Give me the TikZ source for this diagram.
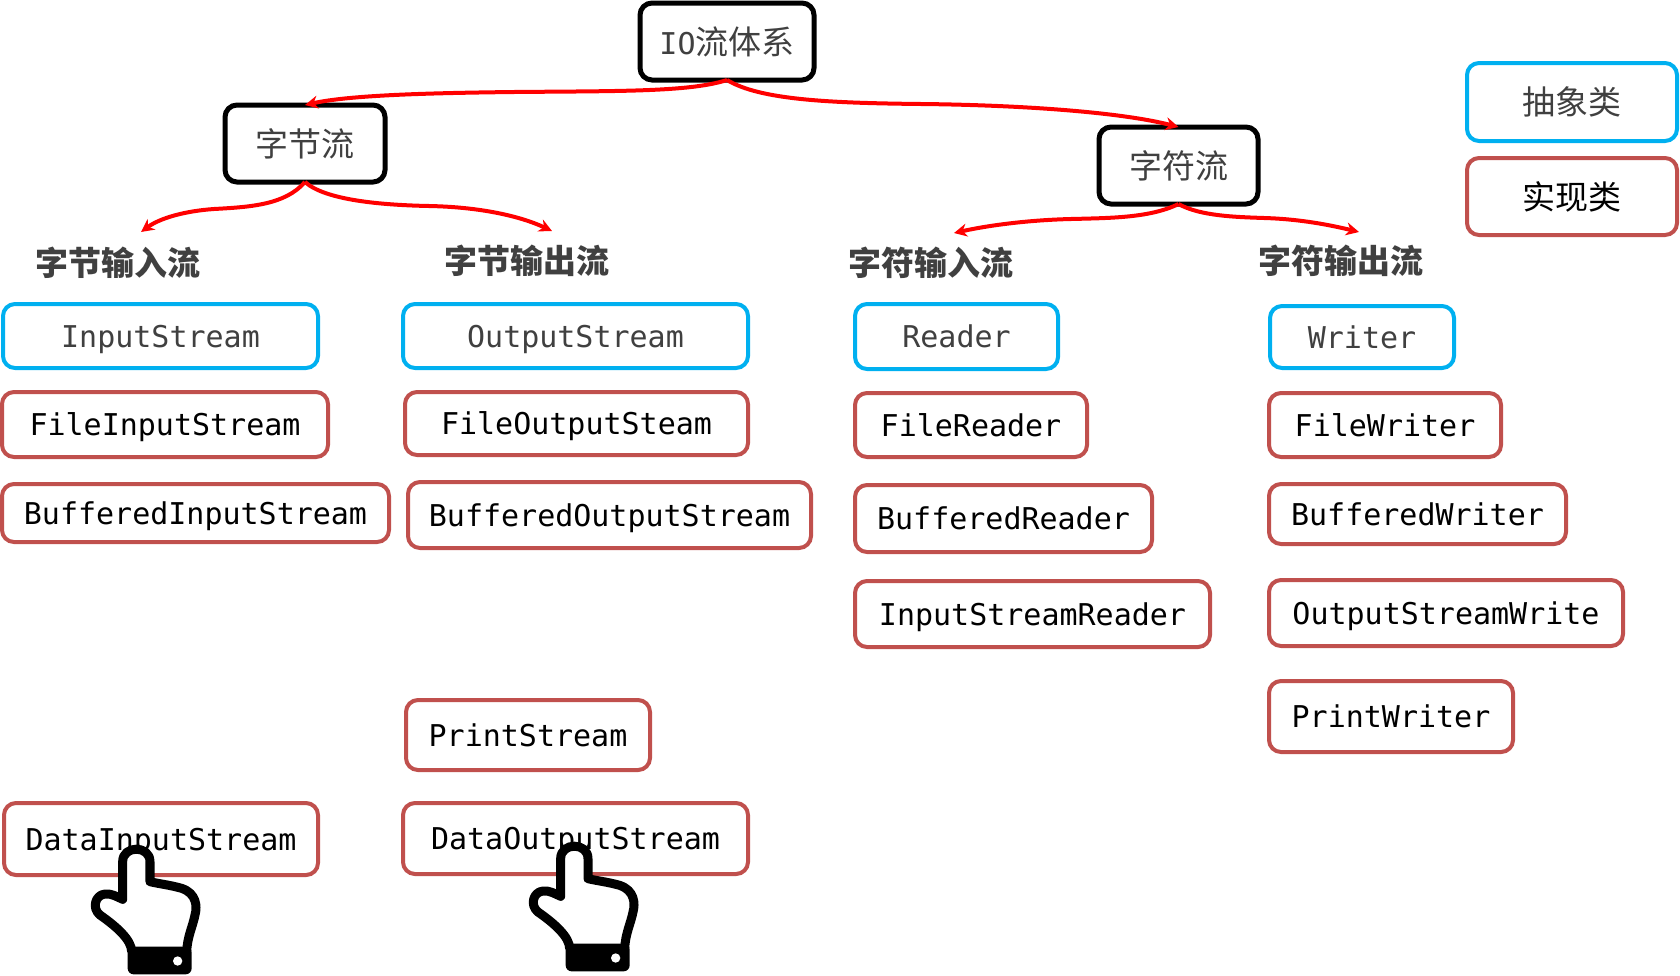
\documentclass[tikz,border=0pt]{standalone}
\usepackage{fontspec}
\setmonofont{DejaVu Sans Mono}
\newfontfamily\cjk{Noto Sans CJK SC}
\usetikzlibrary{arrows.meta}
\definecolor{abstractblue}{HTML}{00B0F0}
\definecolor{implred}{HTML}{C0504D}
\definecolor{labelgrey}{HTML}{404040}
\tikzset{
  basebox/.style={rounded corners=12pt,inner sep=0pt,outer sep=0pt,fill=white,align=center},
  rootbox/.style={basebox,draw=black,line width=5pt,text=labelgrey,font=\cjk\fontsize{33}{38}\selectfont},
  abstractbox/.style={basebox,draw=abstractblue,line width=4pt,text=labelgrey,font=\cjk\fontsize{33}{38}\selectfont},
  implbox/.style={basebox,draw=implred,line width=4pt,text=black,font=\cjk\fontsize{33}{38}\selectfont},
  codeabstract/.style={abstractbox,text depth=0pt,font=\ttfamily\fontsize{30}{36}\selectfont},
  codeimpl/.style={implbox,text depth=0pt,font=\ttfamily\fontsize{30}{36}\selectfont},
  heading/.style={inner sep=0pt,text=labelgrey,font=\cjk\bfseries\fontsize{33}{38}\selectfont},
  flow/.style={draw=red,line width=4pt,-{Stealth[length=13pt,width=13pt]}},
  pointer/.pic={
    \draw[line width=9pt,fill=white,line join=round]
      (395,515) .. controls (395,480) and (350,440) .. (300,405)
      .. controls (275,385) and (285,345) .. (315,342)
      .. controls (335,340) and (350,350) .. (368,358)
      -- (368,245) .. controls (368,195) and (450,195) .. (450,245)
      -- (450,305) .. controls (480,312) and (510,315) .. (545,325)
      .. controls (590,340) and (592,380) .. (585,405)
      .. controls (578,440) and (562,470) .. (560,515);
    \fill[black,rounded corners=6pt] (383,500) rectangle (575,583);
    \fill[white] (533,543) circle (14);
  },
}
% box given by its outer edges: style, name, left, top, right, bottom, text
\newcommand{\placebox}[7]{%
  \pgfmathsetmacro{\boxw}{#5-#3-2}%
  \pgfmathsetmacro{\boxh}{#6-#4-2}%
  \node[#1,minimum width=\boxw pt,minimum height=\boxh pt] (#2) at ({(#3+#5)/2},{(#4+#6)/2}) {#7};%
}
\begin{document}
\begin{tikzpicture}[x=1pt,y=-1pt]
\useasboundingbox (0,0) rectangle (1680,975);

% hierarchy roots
\placebox{rootbox}{io}{639}{2}{815}{81}{{\ttfamily\fontsize{30}{36}\selectfont IO}流体系}
\placebox{rootbox}{bytes}{224}{104}{386}{183}{字节流}
\placebox{rootbox}{chars}{1098}{126}{1259}{205}{字符流}

% legend
\placebox{abstractbox}{legabs}{1466}{62}{1678}{142}{抽象类}
\placebox{implbox}{legimpl}{1466}{157}{1678}{236}{实现类}

% column headings
\node[heading] (hbi) at (118,263) {字节输入流};
\node[heading] (hbo) at (527,261) {字节输出流};
\node[heading] (hci) at (931,263) {字符输入流};
\node[heading] (hco) at (1341,261) {字符输出流};

% byte input column
\placebox{codeabstract}{is}{2}{303}{319}{369}{InputStream}
\placebox{codeimpl}{fis}{1}{391}{329}{458}{FileInputStream}
\placebox{codeimpl}{bis}{1}{483}{390}{543}{BufferedInputStream}
\placebox{codeimpl}{dis}{3}{802}{319}{876}{DataInputStream}

% byte output column
\placebox{codeabstract}{os}{402}{303}{749}{369}{OutputStream}
\placebox{codeimpl}{fos}{404}{391}{749}{456}{FileOutputSteam}
\placebox{codeimpl}{bos}{407}{481}{812}{549}{BufferedOutputStream}
\placebox{codeimpl}{ps}{405}{699}{651}{771}{PrintStream}
\placebox{codeimpl}{dos}{402}{802}{749}{875}{DataOutputStream}

% char input column
\placebox{codeabstract}{rd}{854}{303}{1059}{370}{Reader}
\placebox{codeimpl}{frd}{854}{392}{1088}{458}{FileReader}
\placebox{codeimpl}{brd}{854}{484}{1153}{553}{BufferedReader}
\placebox{codeimpl}{isr}{854}{580}{1211}{648}{InputStreamReader}

% char output column
\placebox{codeabstract}{wr}{1269}{305}{1455}{369}{Writer}
\placebox{codeimpl}{fwr}{1268}{392}{1502}{458}{FileWriter}
\placebox{codeimpl}{bwr}{1268}{483}{1567}{545}{BufferedWriter}
\placebox{codeimpl}{osw}{1268}{579}{1624}{647}{OutputStreamWrite}
\placebox{codeimpl}{pwr}{1268}{680}{1514}{753}{PrintWriter}

% branch targets above the headings
\coordinate (tbi) at (141,232);
\coordinate (tbo) at (552,231);
\coordinate (tci) at (954,233);
\coordinate (tco) at (1359,232);

% red branches
\draw[flow] (io.south) .. controls (690,92) and (620,91) .. (514,92) .. controls (430,93) and (350,95) .. (bytes.north);
\draw[flow] (io.south) .. controls (760,100) and (830,103) .. (921,104) .. controls (1020,105) and (1120,112) .. (chars.north);
\draw[flow] (bytes.south) .. controls (285,205) and (250,207) .. (214,209) .. controls (185,211) and (160,218) .. (tbi);
\draw[flow] (bytes.south) .. controls (325,200) and (380,205) .. (429,206) .. controls (480,207) and (520,216) .. (tbo);
\draw[flow] (chars.south) .. controls (1150,218) and (1110,218) .. (1071,219) .. controls (1030,220) and (990,225) .. (tci);
\draw[flow] (chars.south) .. controls (1200,216) and (1235,217) .. (1264,218) .. controls (1300,219) and (1330,225) .. (tco);

% pointing hands over the two data streams
\pic[scale=1/3] at (0,780) {pointer};
\pic[scale=1/3] at (438,777) {pointer};
\end{tikzpicture}
\end{document}
